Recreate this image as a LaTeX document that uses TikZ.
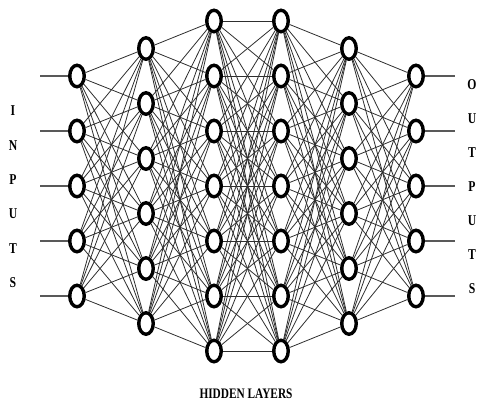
\documentclass[tikz,border=0pt]{standalone}
\usepackage{fontspec}
\setmainfont{Liberation Serif}
\usetikzlibrary{shapes.geometric}
\newcommand{\squeeze}[1]{\scalebox{0.78}[1]{#1}}
\tikzset{
  neuron/.style={draw, ellipse, line width=3.4pt, fill=white, inner sep=0pt,
                 minimum width=14.5pt, minimum height=21.5pt},
  link/.style={line width=0.8pt, black!82},
  ioline/.style={line width=1.3pt, black!65},
  letter/.style={font=\bfseries\fontsize{15}{17}\selectfont, inner sep=0pt},
  caption/.style={font=\bfseries\fontsize{14.5}{16}\selectfont, inner sep=0pt}
}

\begin{document}
\begin{tikzpicture}[x=1pt, y=-1pt]

\useasboundingbox (0,0) rectangle (484,405);

% Neurons: layer / x position / number of nodes
\foreach \layer/\xpos/\count in {1/77/5, 2/146/6, 3/214/7, 4/281/7, 5/349/6, 6/416/5} {
  \pgfmathsetmacro\top{186-27.5*(\count-1)}
  \foreach \k in {1,...,\count} {
    \node[neuron] (n\layer-\k) at (\xpos, {\top+55*(\k-1)}) {};
  }
}

% Fully connected links between neighbouring layers
\foreach \a/\na/\nb in {1/5/6, 2/6/7, 3/7/7, 4/7/6, 5/6/5} {
  \pgfmathtruncatemacro\b{\a+1}
  \foreach \i in {1,...,\na} {
    \foreach \j in {1,...,\nb} {
      \draw[link] (n\a-\i) -- (n\b-\j);
    }
  }
}

% Input and output lines
\foreach \k in {1,...,5} {
  \coordinate (in-\k) at (40, {76+55*(\k-1)});
  \coordinate (out-\k) at (455, {76+55*(\k-1)});
  \draw[ioline] (in-\k) -- (n1-\k);
  \draw[ioline] (n6-\k) -- (out-\k);
}

% Side labels
\foreach \ch [count=\k] in {I,N,P,U,T,S} {
  \node[letter] (inlabel-\k) at (13, {111+34.3*(\k-1)}) {\squeeze{\ch}};
}
\foreach \ch [count=\k] in {O,U,T,P,U,T,S} {
  \node[letter] (outlabel-\k) at (472, {85+34*(\k-1)}) {\squeeze{\ch}};
}

% Caption
\node[caption] (hidden) at (246, 394) {\squeeze{HIDDEN LAYERS}};

\end{tikzpicture}
\end{document}
